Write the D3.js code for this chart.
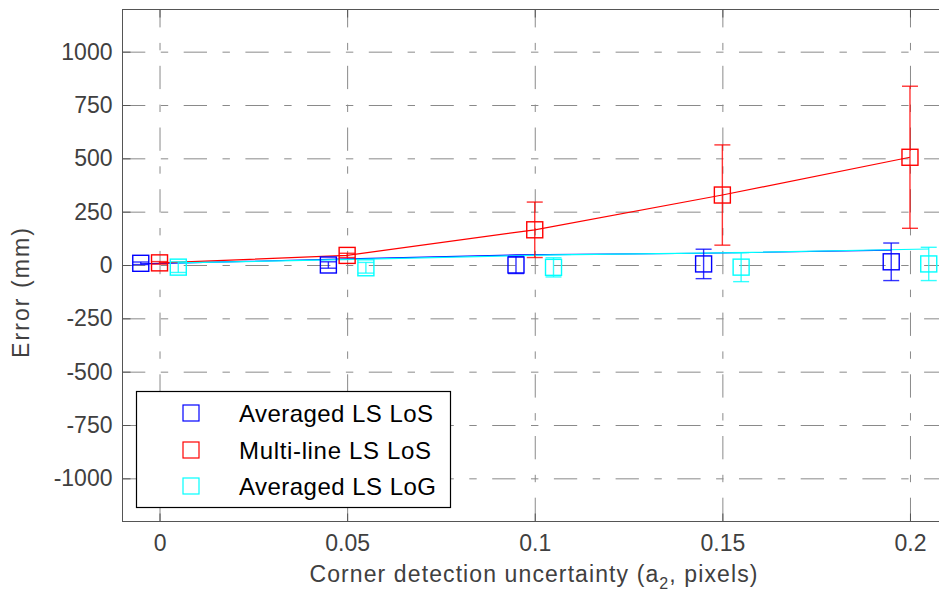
<!DOCTYPE html>
<html>
<head>
<meta charset="utf-8">
<script src="https://cdn.jsdelivr.net/npm/d3@7/dist/d3.min.js"></script>
<style>
  html, body { margin: 0; padding: 0; background: #fff; }
  svg { display: block; font-family: "Liberation Sans", Arial, Helvetica, sans-serif; }
</style>
</head>
<body>
<svg id="chart" width="939" height="599"></svg>
<script>
// Corner detection uncertainty levels (a2, pixels)
const uncertainty = [0, 0.05, 0.1, 0.15, 0.2];
// Horizontal offsets so the three series do not overlap at each level
const seriesOffsets = [-0.005, 0, 0.005];

// Averaged LS LoS: marker value and error half-width (mm)
const avgLoSValue = [8, 0, 0, 5, 15];
const avgLoSError = [6, 15, 40, 69, 88];
// Multi-line LS LoS
const multiLoSValue = [10, 45, 165, 328, 505];
const multiLoSError = [6, 10, 130, 235, 333];
// Averaged LS LoG
const avgLoGValue = [-10, -13, -11, -10, 5];
const avgLoGError = [25, 25, 45, 68, 78];

// Mean-error trend lines for the two averaged estimators (mm)
const avgLoSTrend = [5, 26, 47, 55, 70];
const avgLoGTrend = [10, 28, 47, 58, 75];

const xTicks = [0, 0.05, 0.1, 0.15, 0.2];
const xTickLabels = ["0", "0.05", "0.1", "0.15", "0.2"];
const yTicks = [-1000, -750, -500, -250, 0, 250, 500, 750, 1000];
const yTickLabels = ["-1000", "-750", "-500", "-250", "0", "250", "500", "750", "1000"];

const legendLabels = ["Averaged LS LoS", "Multi-line LS LoS", "Averaged LS LoG"];
const seriesColors = ["#0000ff", "#ff0000", "#00ffff"];

(function draw() {
  const svg = d3.select("#chart");
  const mLeft = 122, mTop = 9, mBottom = 521;

  const x = d3.scaleLinear().domain([-0.01, 0.21]).range([mLeft, 947.5]);
  const y = d3.scaleLinear().domain([-1200, 1200]).range([mBottom, mTop]);
  const plotW = x.range()[1] - mLeft;
  const plotH = mBottom - mTop;

  const dash = "23.3 15.5 7.4 15.5";

  // Grid lines
  const gridY = svg.append("g").attr("transform", `translate(${mLeft},0)`)
    .call(d3.axisLeft(y).tickValues(yTicks).tickSize(-plotW).tickFormat(""));
  gridY.select(".domain").remove();
  gridY.selectAll(".tick line").attr("stroke", "#8a8a8a").attr("stroke-dasharray", dash);

  const gridX = svg.append("g").attr("transform", `translate(0,${mBottom})`)
    .call(d3.axisBottom(x).tickValues(xTicks).tickSize(-plotH).tickFormat(""));
  gridX.select(".domain").remove();
  gridX.selectAll(".tick line").attr("stroke", "#8a8a8a").attr("stroke-dasharray", dash);

  // Frame with inward ticks
  const frameColor = "#555";
  svg.append("rect").attr("x", mLeft + 0.5).attr("y", mTop + 0.5)
    .attr("width", plotW).attr("height", plotH)
    .attr("fill", "none").attr("stroke", frameColor);

  const yAxis = svg.append("g").attr("transform", `translate(${mLeft + 0.5},0)`)
    .call(d3.axisLeft(y).tickValues(yTicks).tickSize(-8)
      .tickFormat((d, i) => yTickLabels[i]).tickPadding(12));
  yAxis.select(".domain").remove();
  yAxis.selectAll(".tick line").attr("stroke", frameColor);
  yAxis.selectAll(".tick text").attr("fill", "#404040").attr("font-size", 23)
    .attr("font-family", "Liberation Sans, Arial, sans-serif").attr("x", -10);

  const xAxis = svg.append("g").attr("transform", `translate(0,${mBottom + 0.5})`)
    .call(d3.axisBottom(x).tickValues(xTicks).tickSize(-8)
      .tickFormat((d, i) => xTickLabels[i]).tickPadding(13));
  xAxis.select(".domain").remove();
  xAxis.selectAll(".tick line").attr("stroke", frameColor);
  xAxis.selectAll(".tick text").attr("fill", "#404040").attr("font-size", 23)
    .attr("font-family", "Liberation Sans, Arial, sans-serif");

  const xTop = svg.append("g").attr("transform", `translate(0,${mTop + 0.5})`)
    .call(d3.axisTop(x).tickValues(xTicks).tickSize(-8).tickFormat(""));
  xTop.select(".domain").remove();
  xTop.selectAll(".tick line").attr("stroke", frameColor);

  // Axis titles
  const xTitle = svg.append("text")
    .attr("x", 534).attr("y", 582)
    .attr("text-anchor", "middle").attr("fill", "#404040").attr("font-size", 23)
    .attr("letter-spacing", 1.1);
  xTitle.append("tspan").text("Corner detection uncertainty (a");
  xTitle.append("tspan").attr("font-size", 16).attr("dy", 7).text("2");
  xTitle.append("tspan").attr("dy", -7).text(", pixels)");

  svg.append("text")
    .attr("transform", "translate(28.5,293) rotate(-90)")
    .attr("text-anchor", "middle").attr("fill", "#404040").attr("font-size", 23)
    .attr("textLength", 130).attr("lengthAdjust", "spacing")
    .text("Error (mm)");

  // Data layers
  const plot = svg.append("g");
  const line = d3.line().x(d => x(d[0])).y(d => y(d[1]));

  const series = [
    { values: avgLoSValue, errors: avgLoSError, offset: seriesOffsets[0], color: seriesColors[0] },
    { values: multiLoSValue, errors: multiLoSError, offset: seriesOffsets[1], color: seriesColors[1] },
    { values: avgLoGValue, errors: avgLoGError, offset: seriesOffsets[2], color: seriesColors[2] }
  ];

  // Connecting lines
  plot.append("path")
    .attr("d", line(uncertainty.map((u, i) => [u + seriesOffsets[0], avgLoSTrend[i]])))
    .attr("fill", "none").attr("stroke", seriesColors[0]).attr("stroke-width", 1.2);
  plot.append("path")
    .attr("d", line(uncertainty.map((u, i) => [u + seriesOffsets[1], multiLoSValue[i]])))
    .attr("fill", "none").attr("stroke", seriesColors[1]).attr("stroke-width", 1.2);
  plot.append("path")
    .attr("d", line(uncertainty.map((u, i) => [u + seriesOffsets[2], avgLoGTrend[i]])))
    .attr("fill", "none").attr("stroke", seriesColors[2]).attr("stroke-width", 1.2);

  const cap = 8, half = 8;
  series.forEach(s => {
    const g = plot.append("g").attr("stroke", s.color).attr("fill", "none");
    uncertainty.forEach((u, i) => {
      const cx = x(u + s.offset);
      const v = s.values[i], e = s.errors[i];
      g.append("line").attr("x1", cx).attr("x2", cx).attr("y1", y(v + e)).attr("y2", y(v - e))
        .attr("stroke-opacity", 0.8).attr("stroke-width", 1.4);
      g.append("line").attr("x1", cx - cap).attr("x2", cx + cap).attr("y1", y(v + e)).attr("y2", y(v + e))
        .attr("stroke-opacity", 0.8).attr("stroke-width", 1.4);
      g.append("line").attr("x1", cx - cap).attr("x2", cx + cap).attr("y1", y(v - e)).attr("y2", y(v - e))
        .attr("stroke-opacity", 0.8).attr("stroke-width", 1.4);
      g.append("rect").attr("x", cx - half).attr("y", y(v) - half)
        .attr("width", 2 * half).attr("height", 2 * half).attr("stroke-width", 1.4);
    });
  });

  // Legend
  const legend = svg.append("g");
  legend.append("rect").attr("x", 136.5).attr("y", 391.5).attr("width", 314).attr("height", 116)
    .attr("fill", "#fff").attr("stroke", "#000").attr("stroke-width", 1.2);
  const rowY = [413, 450, 486];
  const legendWidths = [194, 192, 197];
  legendLabels.forEach((lab, i) => {
    legend.append("rect").attr("x", 183).attr("y", rowY[i] - 8).attr("width", 16).attr("height", 16)
      .attr("fill", "none").attr("stroke", seriesColors[i]).attr("stroke-width", 1.2);
    legend.append("text").attr("x", 239).attr("y", rowY[i] + 8.5)
      .attr("fill", "#000").attr("font-size", 24)
      .attr("textLength", legendWidths[i]).attr("lengthAdjust", "spacing").text(lab);
  });
})();
</script>
</body>
</html>
